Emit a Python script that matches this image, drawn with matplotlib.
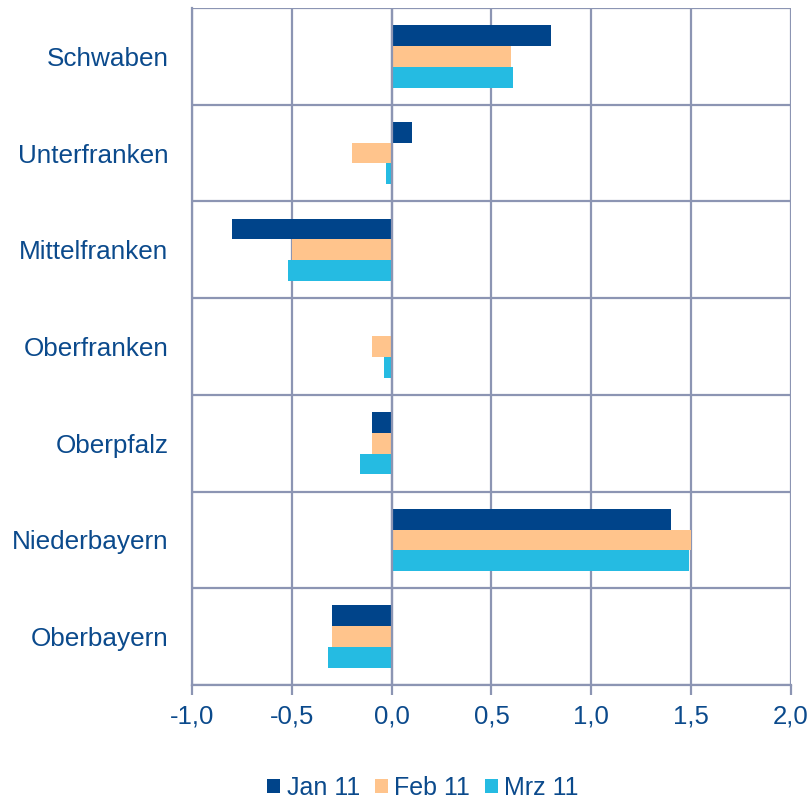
import numpy as np
import matplotlib.pyplot as plt
from matplotlib.ticker import FuncFormatter

plt.rcParams['font.family'] = ['Liberation Sans', 'DejaVu Sans']

regions = ["Oberbayern", "Niederbayern", "Oberpfalz", "Oberfranken",
           "Mittelfranken", "Unterfranken", "Schwaben"]
jan11 = [-0.3, 1.4, -0.1, 0.0, -0.8, 0.1, 0.8]
feb11 = [-0.3, 1.5, -0.1, -0.1, -0.5, -0.2, 0.6]
mrz11 = [-0.32, 1.49, -0.16, -0.04, -0.52, -0.03, 0.61]

series = [("Jan 11", jan11, "#00448a"),
          ("Feb 11", feb11, "#ffc48c"),
          ("Mrz 11", mrz11, "#25bbe2")]

txt = "#0b4a8c"
grid = "#8c95b3"

fig = plt.figure(figsize=(8.11, 8.01), dpi=100)
ax = fig.add_axes([192 / 811, 116 / 801, 599 / 811, 677 / 801])

y = np.arange(len(regions))
h = 0.215
for i, (name, vals, col) in enumerate(series):
    ax.barh(y + (1 - i) * h, vals, height=h, color=col, label=name, zorder=3)

ax.set_xlim(-1, 2)
ax.set_ylim(-0.5, len(regions) - 0.5)
ax.set_xticks(np.arange(-1, 2.01, 0.5))
ax.xaxis.set_major_formatter(FuncFormatter(lambda v, p: f"{v:.1f}".replace(".", ",")))
ax.set_yticks(y)
ax.set_yticklabels(regions)
ax.set_yticks(np.arange(-0.5, len(regions), 1), minor=True)

ax.grid(True, axis="x", which="major", color=grid, lw=1.6, zorder=0)
ax.grid(True, axis="y", which="minor", color=grid, lw=1.6, zorder=0)
ax.axvline(0, color=grid, lw=1.6, zorder=4)

for s in ax.spines.values():
    s.set_color(grid)
    s.set_linewidth(1.6)
ax.spines["top"].set_visible(False)
ax.spines["right"].set_visible(False)

ax.tick_params(axis="x", which="major", length=7, width=1.6, color=grid,
               labelsize=18.5, labelcolor=txt, pad=7)
ax.tick_params(axis="y", which="major", length=0, labelsize=18.8,
               labelcolor=txt, pad=17)
ax.tick_params(axis="y", which="minor", length=0)

leg = fig.legend(loc="center", bbox_to_anchor=(423 / 811, 1 - 788 / 801), ncol=3,
                 frameon=False, fontsize=18, handlelength=0.52, handleheight=0.52,
                 handletextpad=0.25, columnspacing=0.6, borderpad=0)
for t in leg.get_texts():
    t.set_color(txt)

fig.savefig("out.png", dpi=100)
